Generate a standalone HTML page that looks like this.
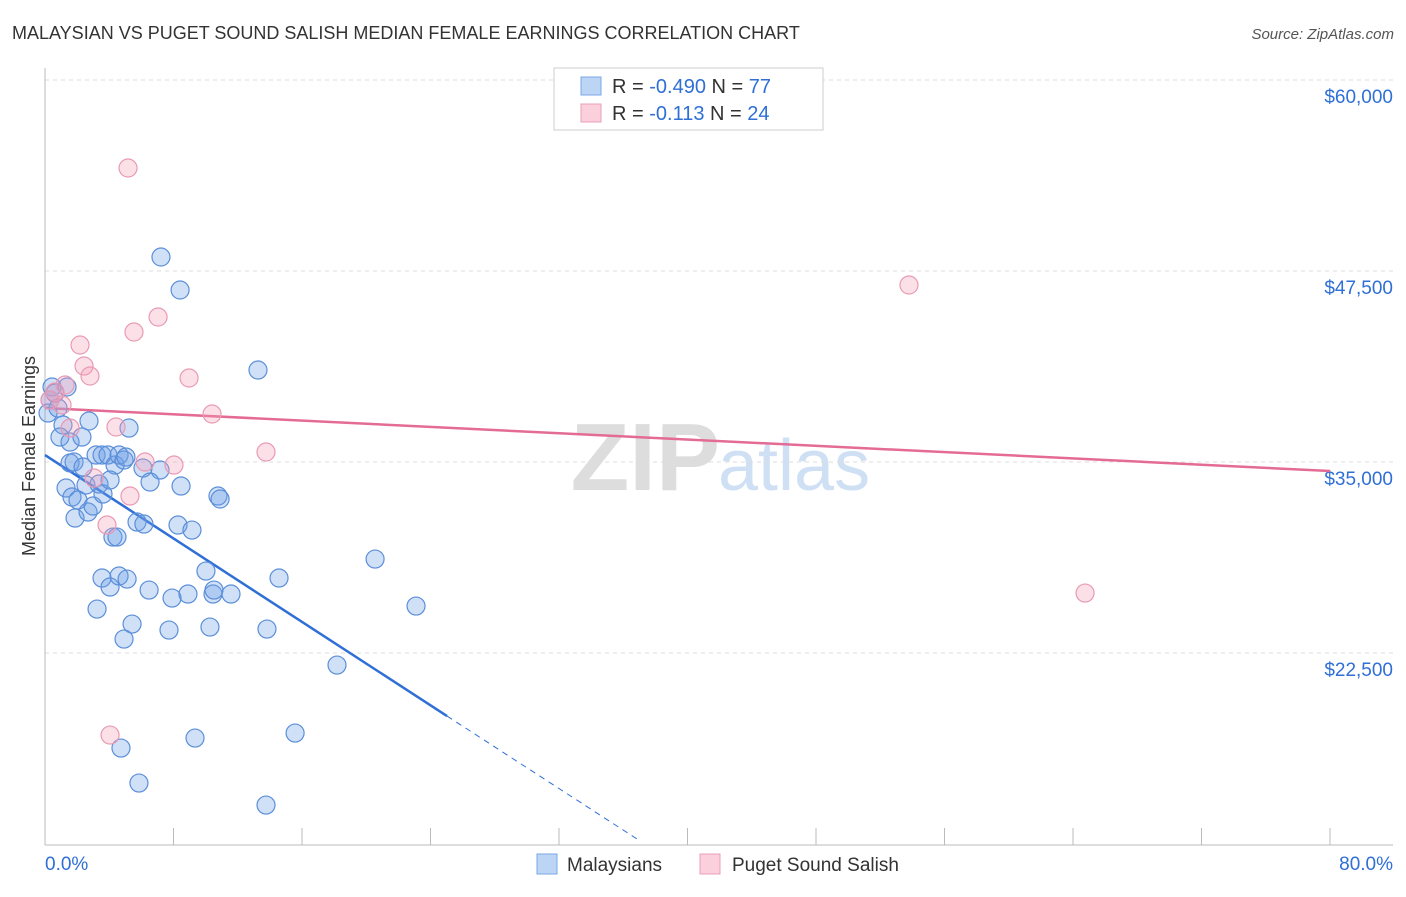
<!DOCTYPE html>
<html><head><meta charset="utf-8"><style>
body{margin:0;background:#fff;font-family:"Liberation Sans",sans-serif;}
svg text{font-family:"Liberation Sans",sans-serif;}
</style></head><body>
<svg id="chart" width="1406" height="892">
<text x="12" y="39" font-size="18" fill="#333">MALAYSIAN VS PUGET SOUND SALISH MEDIAN FEMALE EARNINGS CORRELATION CHART</text>
<text x="1394" y="39" font-size="15" fill="#555" text-anchor="end" font-style="italic">Source: ZipAtlas.com</text>
<text x="720" y="490" font-size="96" fill="#ddd" text-anchor="end" font-family="Liberation Serif" font-weight="bold">ZIP</text>
<text x="718" y="490" font-size="72" fill="#cfe0f4">atlas</text>
<g id="grid"></g><g id="axes"></g><g id="trend"></g><g id="pts"></g>
<text x="35" y="456" font-size="18" fill="#333" text-anchor="middle" transform="rotate(-90 35 456)">Median Female Earnings</text>
<g>
<rect x="554" y="68" width="269" height="62" fill="#fff" stroke="#ccc"/>
<rect x="581" y="77" width="20" height="18" fill="#bcd5f5" stroke="#7aa7e6"/>
<rect x="581" y="104" width="20" height="18" fill="#fbd0dc" stroke="#eaa0b8"/>
<text x="612" y="93" font-size="20" fill="#333">R = <tspan fill="#2f6fd6">-0.490</tspan>   N = <tspan fill="#2f6fd6">77</tspan></text>
<text x="612" y="120" font-size="20" fill="#333">R =   <tspan fill="#2f6fd6">-0.113</tspan>   N = <tspan fill="#2f6fd6">24</tspan></text>
</g>
<g>
<rect x="537" y="854" width="20" height="20" fill="#bcd5f5" stroke="#7aa7e6"/>
<text x="567" y="871" font-size="19" fill="#333">Malaysians</text>
<rect x="700" y="854" width="20" height="20" fill="#fbd0dc" stroke="#eaa0b8"/>
<text x="732" y="871" font-size="19" fill="#333">Puget Sound Salish</text>
</g>
</svg>
<script>
const blueX=[.44,.62,.31,.19,.81,1.37,1.12,.93,1.56,2.74,5.23,1.56,1.81,2.37,1.31,1.68,2.05,1.87,2.68,2.99,2.55,3.36,3.61,3.18,3.55,3.92,4.36,4.61,4.92,5.04,6.10,7.16,6.54,8.47,4.23,4.48,5.73,6.16,8.28,9.15,10.77,10.90,7.22,8.41,13.26,3.55,4.05,4.61,5.11,3.24,5.42,4.92,6.48,7.72,7.91,8.90,10.02,10.46,10.27,10.52,11.58,13.82,14.57,20.55,23.10,18.18,15.57,9.34,4.73,5.85,13.76,2.30,4.05];
const blueY=[39907,39514,39056,38205,38532,39907,37420,36634,36307,37682,37223,34933,35000,34671,33296,32707,32511,31333,31726,32118,33493,33558,32904,35456,35456,35456,34802,35456,35129,35325,34605,34474,33689,33427,30089,30089,31071,30940,30875,30547,32773,32577,48415,46255,41019,27406,26817,27537,27340,25377,24395,23413,26620,24002,26097,26359,27864,26359,24199,26620,26359,24068,27406,28649,25573,21712,17261,16934,16279,13989,12549,36634,33820];
const pinkX=[5.17,7.04,5.54,2.18,2.43,2.80,1.25,.62,.31,8.97,10.40,4.42,1.56,6.23,8.03,13.76,5.29,3.86,3.05,4.05,53.79,64.75,1.06];
const pinkY=[54240,44488,43507,42656,41281,40627,40038,39580,39056,40496,38140,37289,37223,34998,34802,35653,32773,30875,33951,17130,46583,26424,38729];
const yTicks=[22500,35000,47500,60000];
const yTickLabels=["$22,500","$35,000","$47,500","$60,000"];
const xTicks=[0,8,16,24,32,40,48,56,64,72,80];
const blueTrend=[[0,35456],[25.03,18374],[37,10230]];
const pinkTrend=[[0,38533],[80,34409]];
const NS="http://www.w3.org/2000/svg";
const sx=v=>45+v*1285/80;
const sy=v=>80+(60000-v)*191/12500;
function mk(parent,tag,attrs){const e=document.createElementNS(NS,tag);for(const k in attrs)e.setAttribute(k,attrs[k]);document.getElementById(parent).appendChild(e);return e;}
yTicks.forEach((t,i)=>{
 const l=mk('grid','line',{x1:45,x2:1393,y1:sy(t),y2:sy(t),stroke:'#ddd','stroke-dasharray':'4,4'});
 
 
 const tx=mk('grid','text',{x:1393,y:sy(t)+23,'font-size':19,fill:'#2f6fd6','text-anchor':'end'});
 tx.textContent=yTickLabels[i];
 
 
});
const ya=mk('axes','line',{x1:45,x2:45,y1:68,y2:845,stroke:'#bbb'});


const xa=mk('axes','line',{x1:45,x2:1393,y1:845,y2:845,stroke:'#bbb'});


xTicks.forEach(t=>{
 const l=mk('axes','line',{x1:sx(t),x2:sx(t),y1:828,y2:845,stroke:'#bbb'});
 
 
});
const xl0=mk('axes','text',{x:45,y:870,'font-size':19,fill:'#2f6fd6'});xl0.textContent=xTicks[0].toFixed(1)+'%';


const xl1=mk('axes','text',{x:1393,y:870,'font-size':19,fill:'#2f6fd6','text-anchor':'end'});xl1.textContent=xTicks[xTicks.length-1].toFixed(1)+'%';


function dot(x,y,fill,stroke,name){
 const c=mk('pts','circle',{cx:sx(x),cy:sy(y),r:9,fill:fill,stroke:stroke,'stroke-width':1.2});
 
 
}
blueX.forEach((x,i)=>dot(x,blueY[i],'rgba(110,160,230,0.32)','#5b8fd9','malaysian-point'));
pinkX.forEach((x,i)=>dot(x,pinkY[i],'rgba(245,160,185,0.32)','#e89ab5','puget-sound-salish-point'));
const b1=mk('trend','line',{x1:sx(blueTrend[0][0]),y1:sy(blueTrend[0][1]),x2:sx(blueTrend[1][0]),y2:sy(blueTrend[1][1]),stroke:'#2f6fd6','stroke-width':2.5});


const b2=mk('trend','line',{x1:sx(blueTrend[1][0]),y1:sy(blueTrend[1][1]),x2:sx(blueTrend[2][0]),y2:sy(blueTrend[2][1]),stroke:'#2f6fd6','stroke-width':1,'stroke-dasharray':'6,5'});


const p1=mk('trend','line',{x1:sx(pinkTrend[0][0]),y1:sy(pinkTrend[0][1]),x2:sx(pinkTrend[1][0]),y2:sy(pinkTrend[1][1]),stroke:'#e46b94','stroke-width':2.5});


</script>
</body></html>
